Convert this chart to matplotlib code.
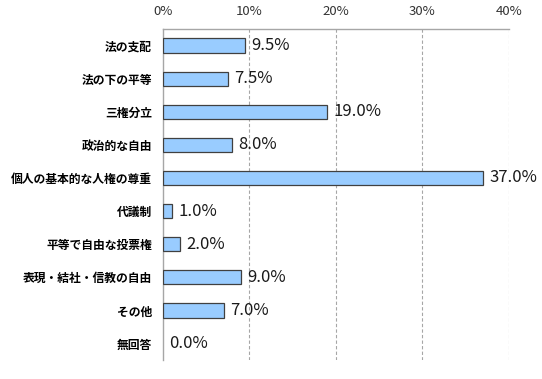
import matplotlib

matplotlib.use("Agg")

import matplotlib.pyplot as plt
from matplotlib.ticker import FuncFormatter

plt.rcParams["font.family"] = ["Noto Sans CJK JP", "DejaVu Sans"]

CATEGORIES = [
    "法の支配",
    "法の下の平等",
    "三権分立",
    "政治的な自由",
    "個人の基本的な人権の尊重",
    "代議制",
    "平等で自由な投票権",
    "表現・結社・信教の自由",
    "その他",
    "無回答",
]
VALUES = [9.5, 7.5, 19.0, 8.0, 37.0, 1.0, 2.0, 9.0, 7.0, 0.0]
X_TICKS = [0, 10, 20, 30, 40]


def main() -> None:
    fig = plt.figure(figsize=(5.42, 3.79), dpi=100)
    ax = fig.add_axes([0.3007, 0.050, 0.6384, 0.8735])

    y = list(range(len(CATEGORIES)))
    edges = ["#404040" if v > 0 else "none" for v in VALUES]
    ax.barh(y, VALUES, height=0.43, color="#99CCFF", edgecolor=edges, linewidth=0.9, zorder=3)
    for yi, v in zip(y, VALUES):
        ax.text(v + 0.75, yi, f"{v:.1f}%", va="center", ha="left", fontsize=12,
                color="#1a1a1a", zorder=4)

    ax.set_xlim(0, 40)
    ax.set_ylim(len(CATEGORIES) - 0.5, -0.5)
    ax.set_yticks(y)
    ax.set_yticklabels(CATEGORIES, fontsize=8.5, fontweight="bold")
    ax.set_xticks(X_TICKS)
    ax.xaxis.set_major_formatter(FuncFormatter(lambda v, _: f"{v:.0f}%"))
    ax.xaxis.tick_top()
    ax.tick_params(axis="x", length=0, pad=8, labelsize=9.5, colors="#333333")
    ax.tick_params(axis="y", length=0, pad=8)

    for xv in X_TICKS[1:]:
        ax.axvline(xv, color="#A6A6A6", linestyle=(0, (3, 2)), linewidth=0.8, zorder=1)

    for side in ("right", "bottom"):
        ax.spines[side].set_visible(False)
    for side in ("left", "top"):
        ax.spines[side].set_color("#A6A6A6")
        ax.spines[side].set_linewidth(1.0)

    fig.savefig("out.png", dpi=100)
    plt.close(fig)


if __name__ == "__main__":
    main()
